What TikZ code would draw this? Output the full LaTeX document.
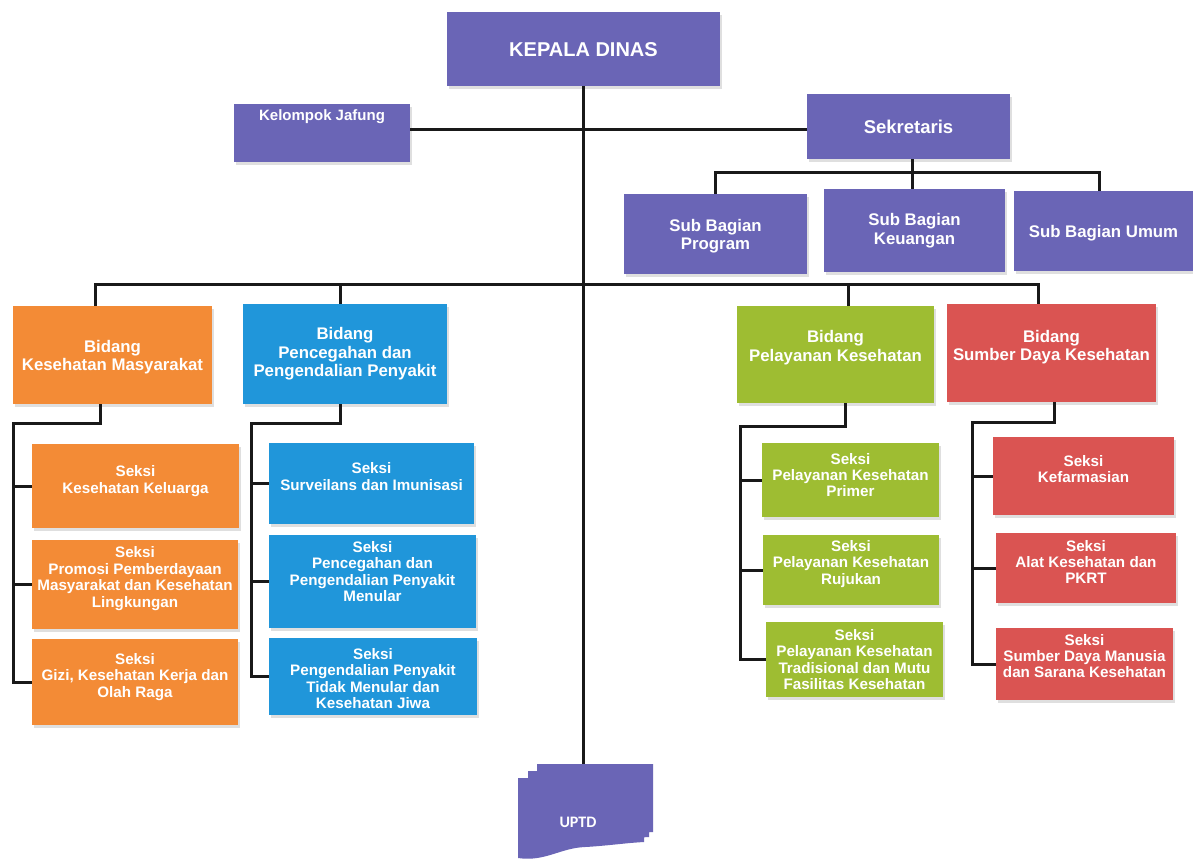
\documentclass[tikz,border=0pt]{standalone}
\usepackage{fontspec}
\setmainfont{Liberation Sans}
\newfontfamily\calib{Carlito}
\usetikzlibrary{shadows,calc}
\definecolor{cpu}{RGB}{106,101,182}
\definecolor{cor}{RGB}{243,139,54}
\definecolor{cbl}{RGB}{32,150,218}
\definecolor{cgr}{RGB}{158,189,50}
\definecolor{crd}{RGB}{218,84,82}
\definecolor{cln}{RGB}{25,25,25}
\tikzset{
  bxbase/.style={rectangle, inner sep=0pt, draw=none,
    drop shadow={opacity=0.25, shadow xshift=1.5pt, shadow yshift=-2.5pt}},
  pu/.style={fill=cpu}, orf/.style={fill=cor}, blf/.style={fill=cbl},
  grf/.style={fill=cgr}, rdf/.style={fill=crd},
  txt/.style={text=white, align=center, inner sep=0pt},
  tA/.style={font=\bfseries\fontsize{20}{22}\selectfont},
  tB/.style={font=\bfseries\fontsize{15}{17}\selectfont},
  tC/.style={font=\bfseries\fontsize{18.5}{20}\selectfont},
  tD/.style={font=\bfseries\fontsize{16.8}{18.6}\selectfont},
  tE/.style={font=\bfseries\fontsize{15.2}{16.4}\selectfont},
  conn/.style={line width=3pt, draw=cln}
}
\newcommand\bx[9]{%
  \node[bxbase,#1,minimum width={(#6-#4)*1pt},minimum height={(#7-#5)*1pt}] (#3) at ({(#4+#6)/2},{(#5+#7)/2}) {};
  \node[txt,#2] (#3t) at ({(#4+#6)/2},{(#5+#7)/2+#8}) {#9};}
\begin{document}
\begin{tikzpicture}[x=1pt,y=-1pt]
\useasboundingbox (0,0) rectangle (1193,860);
\fill[white] (0,0) rectangle (1193,860);

% top level
\bx{pu}{tA}{kepala}{447}{12}{720}{86}{1}{KEPALA DINAS}
\bx{pu}{tB}{jafung}{234}{104}{410}{162}{-16}{Kelompok Jafung}
\bx{pu}{tC}{sek}{807}{94}{1010}{159}{0}{Sekretaris}
\bx{pu}{tD}{sbp}{624}{194}{807}{274}{2}{Sub Bagian\\Program}
\bx{pu}{tD}{sbk}{824}{189}{1005}{272}{0}{Sub Bagian\\Keuangan}
\bx{pu}{tD}{sbu}{1014}{191}{1193}{271}{2}{Sub Bagian Umum}

% bidang
\bx{orf}{tD}{bkm}{13}{306}{212}{404}{2}{Bidang\\Kesehatan Masyarakat}
\bx{blf}{tD}{bpp}{243}{304}{447}{404}{0}{Bidang\\Pencegahan dan\\Pengendalian Penyakit}
\bx{grf}{tD}{bpl}{737}{306}{934}{403}{-7}{Bidang\\Pelayanan Kesehatan}
\bx{rdf}{tD}{bsd}{947}{304}{1156}{402}{-6}{Bidang\\Sumber Daya Kesehatan}

% seksi
\bx{orf}{tE}{s11}{32}{444}{239}{528}{-5}{Seksi\\Kesehatan Keluarga}
\bx{orf}{tE}{s12}{32}{540}{238}{629}{-6}{Seksi\\Promosi Pemberdayaan\\Masyarakat dan Kesehatan\\Lingkungan}
\bx{orf}{tE}{s13}{32}{639}{238}{725}{-5}{Seksi\\Gizi, Kesehatan Kerja dan\\Olah Raga}

\bx{blf}{tE}{s21}{269}{443}{474}{524}{-7}{Seksi\\Surveilans dan Imunisasi}
\bx{blf}{tE}{s22}{269}{535}{476}{628}{-10}{Seksi\\Pencegahan dan\\Pengendalian Penyakit\\Menular}
\bx{blf}{tE}{s23}{269}{638}{477}{715}{2}{Seksi\\Pengendalian Penyakit\\Tidak Menular dan\\Kesehatan Jiwa}

\bx{grf}{tE}{s31}{762}{443}{939}{517}{-5}{Seksi\\Pelayanan Kesehatan\\Primer}
\bx{grf}{tE}{s32}{763}{535}{939}{605}{-6}{Seksi\\Pelayanan Kesehatan\\Rujukan}
\bx{grf}{tE}{s33}{766}{622}{943}{697}{0}{Seksi\\Pelayanan Kesehatan\\Tradisional dan Mutu\\Fasilitas Kesehatan}

\bx{rdf}{tE}{s41}{993}{437}{1174}{515}{-7}{Seksi\\Kefarmasian}
\bx{rdf}{tE}{s42}{996}{533}{1176}{603}{-6}{Seksi\\Alat Kesehatan dan\\PKRT}
\bx{rdf}{tE}{s43}{996}{628}{1173}{700}{-8}{Seksi\\Sumber Daya Manusia\\dan Sarana Kesehatan}

% UPTD (stacked documents)
\fill[cpu] (537,764) -- (653,764) -- (653,832) .. controls (635,833) and (618,836) .. (600,837) .. controls (577,838) and (562,852) .. (537,848) -- cycle;
\fill[cpu] (528,771) -- (649,771) -- (649,837) .. controls (630,838) and (612,841) .. (592,842) .. controls (568,843) and (553,857) .. (528,853) -- cycle;
\fill[cpu] (518,778) -- (644,778) -- (644,842) .. controls (625,843) and (605,846) .. (585,847) .. controls (560,848) and (545,862) .. (518,858) -- cycle;
\node[txt, font=\calib\bfseries\fontsize{16}{18}\selectfont] (uptd) at (578,822) {UPTD};
\coordinate (uptdtop) at (584,764);

% connectors
\coordinate (hl) at (584,129);
\draw[conn] (kepala.south) -- (kepala.south |- uptdtop);
\draw[conn] (jafung.east |- hl) -- (sek.west |- hl);

\coordinate (sbus) at (912,172);
\draw[conn] (sek.south -| sbus) -- (sbus);
\draw[conn] (sbp.north) -- (sbp.north |- sbus) -- ([xshift=-4pt]sbu.north |- sbus) -- ([xshift=-4pt]sbu.north);
\draw[conn] (sbk.north -| sbus) -- (sbus);

\coordinate (bbus) at (584,284);
\draw[conn] ([xshift=-17.5pt]bkm.north) -- ([xshift=-17.5pt]bkm.north |- bbus) -- ([xshift=-13.5pt]bsd.north |- bbus) -- ([xshift=-13.5pt]bsd.north);
\draw[conn] ([xshift=-5pt]bpp.north) -- ([xshift=-5pt]bpp.north |- bbus);
\draw[conn] ([xshift=12.5pt]bpl.north) -- ([xshift=12.5pt]bpl.north |- bbus);

\coordinate (r1) at (13,423);
\draw[conn] ([xshift=-12.5pt]bkm.south) |- (r1) |- (s13.west);
\draw[conn] (r1 |- s11.west) -- (s11.west);
\draw[conn] (r1 |- s12.west) -- (s12.west);

\coordinate (r2) at (251,423);
\draw[conn] ([xshift=-5pt]bpp.south) |- (r2) |- (s23.west);
\draw[conn] (r2 |- s21.west) -- (s21.west);
\draw[conn] (r2 |- s22.west) -- (s22.west);

\coordinate (r3) at (740,426);
\draw[conn] ([xshift=9.5pt]bpl.south) |- (r3) |- (s33.west);
\draw[conn] (r3 |- s31.west) -- (s31.west);
\draw[conn] (r3 |- s32.west) -- (s32.west);

\coordinate (r4) at (972,422);
\draw[conn] ([xshift=2.5pt]bsd.south) |- (r4) |- (s43.west);
\draw[conn] (r4 |- s41.west) -- (s41.west);
\draw[conn] (r4 |- s42.west) -- (s42.west);
\end{tikzpicture}
\end{document}
